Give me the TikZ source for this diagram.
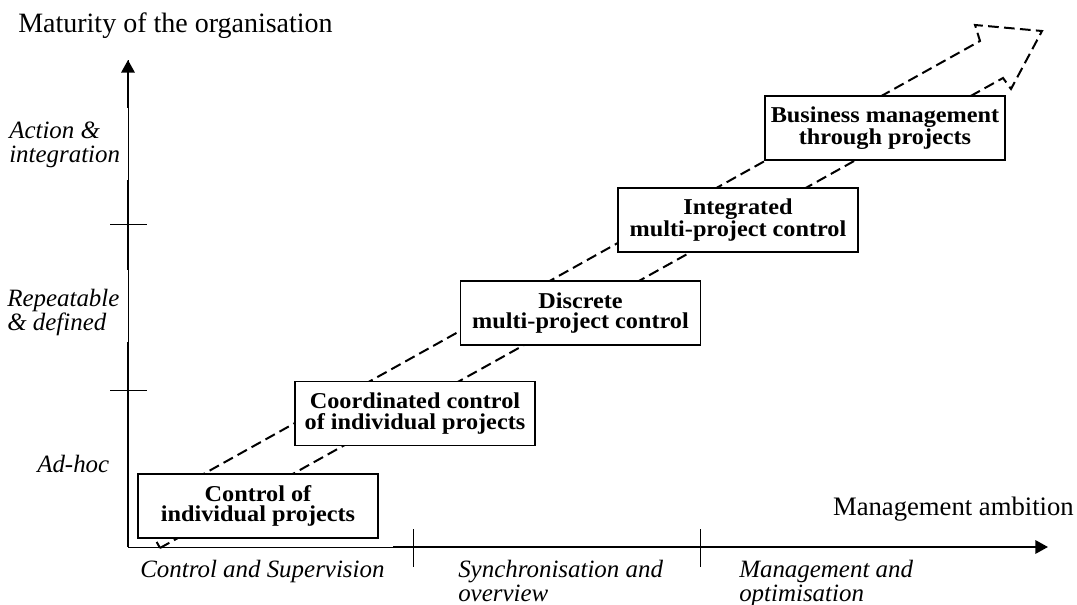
\documentclass[tikz,border=0pt]{standalone}
\usepackage{fontspec}
\setmainfont{Liberation Serif}
\newfontfamily\boxfont[FakeStretch=1.07]{Liberation Serif}
\usetikzlibrary{arrows.meta}
\tikzset{
  stagebox/.style={draw, line width=1pt, fill=white, minimum width=180pt, minimum height=48pt,
    inner sep=0pt, align=center, font=\boxfont\fontsize{17}{15.5}\selectfont\bfseries},
  levellabel/.style={inner sep=0pt, align=left, anchor=base west, font=\fontsize{18.7}{18}\selectfont\itshape},
  axislabel/.style={inner sep=0pt, anchor=base west, font=\fontsize{20}{22}\selectfont},
  axisthick/.style={line width=1.7pt},
  axisthin/.style={line width=0.75pt},
  tickline/.style={line width=0.75pt},
  bigarrow/.style={line width=1.5pt, dash pattern=on 8pt off 4pt, line join=miter},
  tip/.style={-{Triangle[length=9.5pt,width=10pt]}}
}
\begin{document}
\begin{tikzpicture}[x=0.75pt,y=-0.75pt]
\useasboundingbox (0,0) rectangle (1077,605);

% coordinates of axes
\coordinate (O) at (128,547);
\coordinate (ytop) at (128,60);
\coordinate (xend) at (1048,547);

% broad dashed arrow
\coordinate (a1) at (160,548);
\coordinate (a2) at (1003,78);
\coordinate (a3) at (1011,89);
\coordinate (a4) at (1042,31);
\coordinate (a5) at (975,25);
\coordinate (a6) at (980,41);
\coordinate (a7) at (139,510);
\draw[bigarrow] (a1) -- (a2) -- (a3) -- (a4) -- (a5) -- (a6) -- (a7) -- cycle;

% axes
\draw[axisthin] (O) -- (ytop);
\draw[axisthick] (O) -- (128,342);
\draw[axisthick] (128,270) -- (128,180);
\draw[axisthick,tip] (128,108) -- (ytop);
\draw[axisthin] (O) -- (393,547);
\draw[axisthick,tip] (393,547) -- (xend);

% ticks
\draw[tickline] (110,225) -- (147,225);
\draw[tickline] (110,391) -- (147,391);
\draw[tickline] (413,529) -- (413,567);
\draw[tickline] (700,529) -- (700,567);

% axis titles
\node[axislabel, font=\fontsize{21}{22}\selectfont] (ytitle) at (18,33) {Maturity of the organisation};
\node[axislabel, anchor=base east] (xtitle) at (1074,515) {Management ambition};

% level labels (base = last line)
\node[levellabel] (l3) at (9,163) {Action \&\\integration};
\node[levellabel] (l2) at (7,331) {Repeatable\\\& defined};
\node[levellabel] (l1) at (37,472) {Ad-hoc};

\node[levellabel] (m1) at (140,577) {Control and Supervision};
\node[levellabel] (m2) at (458,601) {Synchronisation and\\overview};
\node[levellabel] (m3) at (739,601) {Management and\\optimisation};

% stages
\node[stagebox] (s1) at (258,506) {Control of\\individual projects};
\node[stagebox] (s2) at (415,413.5) {Coordinated control\\of individual projects};
\node[stagebox] (s3) at (580.5,313) {Discrete\\multi-project control};
\node[stagebox] (s4) at (738,220) {Integrated\\multi-project control};
\node[stagebox] (s5) at (885,128) {Business management\\through projects};
\end{tikzpicture}
\end{document}
